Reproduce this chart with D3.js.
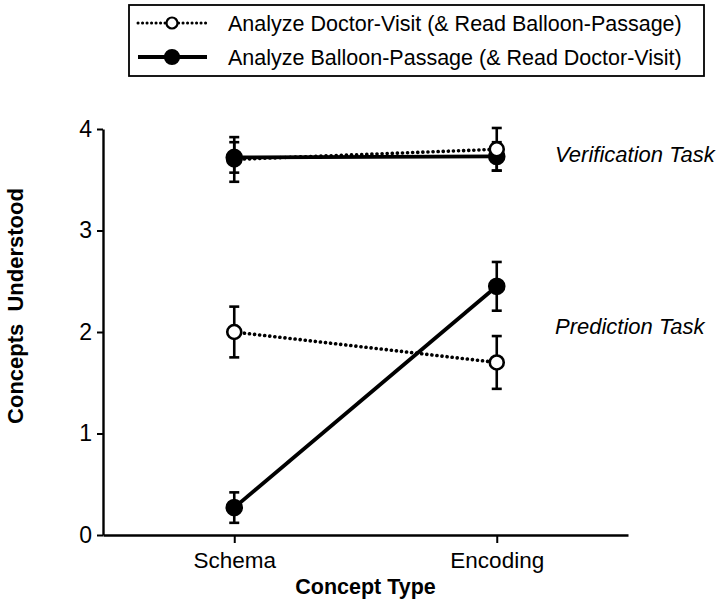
<!DOCTYPE html>
<html>
<head>
<meta charset="utf-8">
<script src="https://cdn.jsdelivr.net/npm/d3@7"></script>
<style>
    body { margin: 0; background: #fff; }
    svg { font-family: "Liberation Sans", Arial, Helvetica, sans-serif; }
</style>
</head>
<body>
<svg id="chart" width="718" height="607"></svg>
<script>
const categories = ["Schema", "Encoding"];
const yTicks = [0, 1, 2, 3, 4];

// Analyze Doctor-Visit (open circles, dotted)
const doctorVerification = [3.70, 3.80];
const doctorVerificationErr = [0.22, 0.21];
const doctorPrediction = [2.00, 1.70];
const doctorPredictionErr = [0.25, 0.26];

// Analyze Balloon-Passage (filled circles, solid)
const balloonVerification = [3.72, 3.73];
const balloonVerificationErr = [0.15, 0.14];
const balloonPrediction = [0.27, 2.45];
const balloonPredictionErr = [0.15, 0.24];

const legendLabels = [
    "Analyze Doctor-Visit (& Read Balloon-Passage)",
    "Analyze Balloon-Passage (& Read Doctor-Visit)"
];
const taskLabels = [
    { text: "Verification Task", value: 3.75 },
    { text: "Prediction Task", value: 2.05 }
];

const width = 718, height = 607;
const margin = { top: 129, right: 90, bottom: 72, left: 103 };

const svg = d3.select("#chart");

const x = d3.scalePoint()
    .domain(categories)
    .range([margin.left, width - margin.right])
    .padding(0.5);

const y = d3.scaleLinear()
    .domain([0, 4])
    .range([height - margin.bottom, margin.top]);

const styles = {
    doctor: { dash: "0.1,5", width: 3.6, fill: "#fff", r: 7 },
    balloon: { dash: null, width: 3.8, fill: "#000", r: 7.5 }
};

const makeSeries = (key, values, errs) =>
    values.map((v, i) => ({ key, cat: categories[i], value: v, err: errs[i] }));

const series = [
    { key: "doctor", points: makeSeries("doctor", doctorVerification, doctorVerificationErr) },
    { key: "doctor", points: makeSeries("doctor", doctorPrediction, doctorPredictionErr) },
    { key: "balloon", points: makeSeries("balloon", balloonVerification, balloonVerificationErr) },
    { key: "balloon", points: makeSeries("balloon", balloonPrediction, balloonPredictionErr) }
];

// axes
const yAxis = d3.axisLeft(y)
    .tickValues(yTicks)
    .tickFormat(d3.format("d"))
    .tickSize(6).tickSizeOuter(0).tickPadding(5);
svg.append("g")
    .attr("transform", `translate(${margin.left},0)`)
    .call(yAxis)
    .call(g => g.selectAll("text").attr("font-size", 23).attr("fill", "#000").attr("font-family", null))
    .call(g => g.selectAll("line").attr("stroke-width", 2))
    .call(g => g.select(".domain").attr("stroke-width", 2.4));

const xAxis = d3.axisBottom(x).tickSize(8).tickSizeOuter(0).tickPadding(9);
svg.append("g")
    .attr("transform", `translate(0,${height - margin.bottom})`)
    .call(xAxis)
    .call(g => g.selectAll("text").attr("font-size", 22.5).attr("fill", "#000").attr("font-family", null))
    .call(g => g.selectAll("line").attr("stroke-width", 2))
    .call(g => g.select(".domain").attr("stroke-width", 2.4));

// axis titles
svg.append("text")
    .attr("transform", `translate(23,306) rotate(-90)`)
    .attr("text-anchor", "middle")
    .attr("font-size", 22)
    .attr("font-weight", "bold")
    .attr("word-spacing", 6)
    .text("Concepts Understood");

svg.append("text")
    .attr("x", (margin.left + width - margin.right) / 2)
    .attr("y", 594)
    .attr("text-anchor", "middle")
    .attr("font-size", 21.5)
    .attr("font-weight", "bold")
    .text("Concept Type");

// task labels
svg.selectAll(".task")
    .data(taskLabels)
    .join("text")
    .attr("class", "task")
    .attr("x", 555)
    .attr("y", d => y(d.value) + 7.5)
    .attr("font-size", 22)
    .attr("font-style", "italic")
    .text(d => d.text);

// lines
const line = d3.line()
    .x(d => x(d.cat))
    .y(d => y(d.value));

svg.selectAll(".series")
    .data(series)
    .join("path")
    .attr("class", "series")
    .attr("fill", "none")
    .attr("stroke", "#000")
    .attr("stroke-width", d => styles[d.key].width)
    .attr("stroke-dasharray", d => styles[d.key].dash)
    .attr("stroke-linecap", d => d.key === "doctor" ? "round" : "butt")
    .attr("d", d => line(d.points));

// error bars
const allPoints = series.flatMap(s => s.points);
const capW = 5;

const bars = svg.selectAll(".err")
    .data(allPoints)
    .join("g")
    .attr("class", "err")
    .attr("stroke", "#000")
    .attr("stroke-width", 2.6);

bars.append("line")
    .attr("x1", d => x(d.cat)).attr("x2", d => x(d.cat))
    .attr("y1", d => y(d.value - d.err)).attr("y2", d => y(d.value + d.err));
bars.append("line")
    .attr("x1", d => x(d.cat) - capW).attr("x2", d => x(d.cat) + capW)
    .attr("y1", d => y(d.value + d.err)).attr("y2", d => y(d.value + d.err));
bars.append("line")
    .attr("x1", d => x(d.cat) - capW).attr("x2", d => x(d.cat) + capW)
    .attr("y1", d => y(d.value - d.err)).attr("y2", d => y(d.value - d.err));

// markers, higher value drawn on top
svg.selectAll(".marker")
    .data(allPoints.slice().sort((a, b) => a.value - b.value))
    .join("circle")
    .attr("class", "marker")
    .attr("cx", d => x(d.cat))
    .attr("cy", d => y(d.value))
    .attr("r", d => styles[d.key].r)
    .attr("fill", d => styles[d.key].fill)
    .attr("stroke", "#000")
    .attr("stroke-width", 2.6);

// legend
const legend = svg.append("g");
legend.append("rect")
    .attr("x", 129).attr("y", 5)
    .attr("width", 575).attr("height", 71)
    .attr("fill", "none")
    .attr("stroke", "#000")
    .attr("stroke-width", 1.8);

const legendKeys = ["doctor", "balloon"];
const legendRow = legend.selectAll(".row")
    .data(legendKeys)
    .join("g")
    .attr("class", "row")
    .attr("transform", (_, i) => `translate(0,${23 + i * 34})`);

legendRow.append("line")
    .attr("x1", 138).attr("x2", 207)
    .attr("stroke", "#000")
    .attr("stroke-width", d => d === "doctor" ? 3 : 4.2)
    .attr("stroke-dasharray", d => d === "doctor" ? "0.1,4.4" : null)
    .attr("stroke-linecap", d => d === "doctor" ? "round" : "butt");

legendRow.append("circle")
    .attr("cx", 172)
    .attr("r", d => d === "doctor" ? 5.5 : 7)
    .attr("fill", d => styles[d].fill)
    .attr("stroke", "#000")
    .attr("stroke-width", 2.2);

legendRow.append("text")
    .attr("x", 228)
    .attr("y", 7.5)
    .attr("font-size", 21.5)
    .text((_, i) => legendLabels[i]);
</script>
</body>
</html>
